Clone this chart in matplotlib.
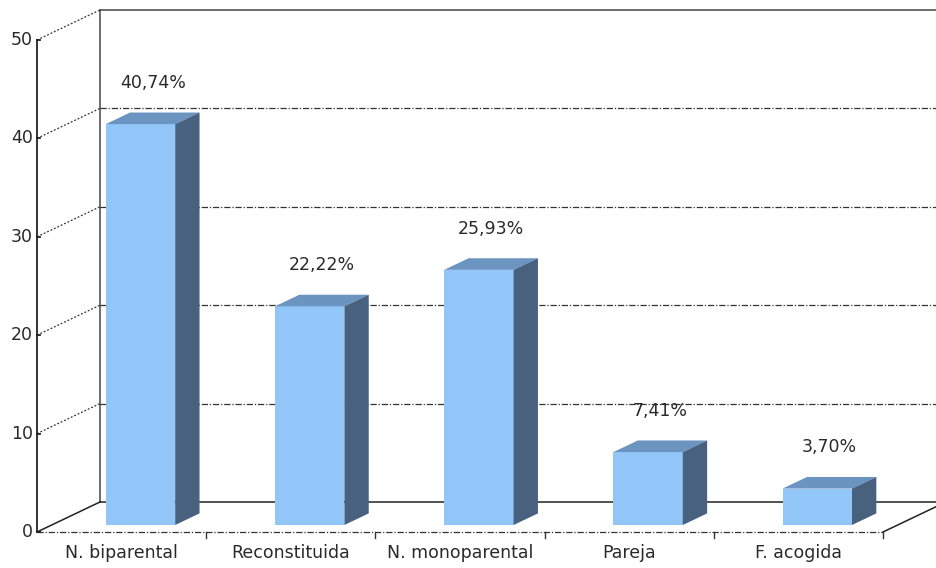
import matplotlib
matplotlib.use("Agg")
import matplotlib.pyplot as plt
from matplotlib.patches import Polygon

categories = ["N. biparental", "Reconstituida", "N. monoparental", "Pareja", "F. acogida"]
values = [40.74, 22.22, 25.93, 7.41, 3.70]
value_labels = ["40,74%", "22,22%", "25,93%", "7,41%", "3,70%"]
yticks = [0, 10, 20, 30, 40, 50]

# pseudo 3D geometry (in data units)
DX, DY = 0.372, 3.05        # full depth offset of the back wall
F0, F1 = 0.233, 0.62        # bar front / back depth fraction
BAR_L, BAR_W = 0.32, 0.41   # bar position inside its category
YMAX = 50
N = len(categories)

front_c = "#92c6f8"
top_c = "#6b94c1"
side_c = "#48617f"
grid_c = "#333333"
text_c = "#2a2a2a"
dashdot = (0, (5, 1.5, 1, 1.5))

plt.rcParams['font.family'] = ['DejaVu Sans']

fig = plt.figure(figsize=(9.36, 5.68), dpi=100)
ax = fig.add_axes([0, 0, 1, 1])
ax.set_xlim(-37 / 169.2, (936 - 37) / 169.2)
ax.set_ylim(-36 / 9.84, (568 - 36) / 9.84)
ax.set_axis_off()

# back wall frame
ax.plot([DX, DX], [DY, YMAX + DY], color="#555555", lw=1.2, zorder=1)
ax.plot([DX, N + DX + 0.5], [YMAX + DY, YMAX + DY], color="#555555", lw=1.2, zorder=1)
# floor back line and right edge
ax.plot([DX, N + DX + 0.5], [DY, DY], color="#222222", lw=1.1, zorder=1)
ax.plot([N, N + DX], [0, DY], color="#222222", lw=1.1, zorder=1)
ax.plot([0, DX], [0, DY], color="#222222", lw=1.1, zorder=1)

# gridlines on back wall + diagonal lines on the left wall
for v in yticks[1:]:
    if v < YMAX:
        ax.plot([DX, N + DX + 0.5], [v + DY, v + DY], color=grid_c, lw=0.9,
                ls=dashdot, zorder=1)
    ax.plot([0, DX], [v, v + DY], color=grid_c, lw=0.9, ls=(0, (1.5, 1.5)), zorder=1)

# front floor line
ax.plot([0, N], [0, 0], color=grid_c, lw=0.9, ls=dashdot, zorder=1)
for i in range(1, N + 1):
    ax.plot([i, i], [0, -0.6], color=grid_c, lw=1.0, zorder=1)

# front axis
ax.plot([0, 0], [0, YMAX], color="#222222", lw=1.3, zorder=5)
for v in yticks:
    ax.plot([0, 0.02], [v, v], color="#222222", lw=1.3, zorder=5)
    ax.text(-0.025, v, str(v), ha="right", va="center", fontsize=12.5, color=text_c)

# bars
for i, (v, lab) in enumerate(zip(values, value_labels)):
    x0 = i + BAR_L
    x1 = x0 + BAR_W
    ox0, oy0 = F0 * DX, F0 * DY
    ox1, oy1 = F1 * DX, F1 * DY
    front = [(x0 + ox0, oy0), (x1 + ox0, oy0), (x1 + ox0, v + oy0), (x0 + ox0, v + oy0)]
    top = [(x0 + ox0, v + oy0), (x1 + ox0, v + oy0), (x1 + ox1, v + oy1), (x0 + ox1, v + oy1)]
    side = [(x1 + ox0, oy0), (x1 + ox1, oy1), (x1 + ox1, v + oy1), (x1 + ox0, v + oy0)]
    ax.add_patch(Polygon(front, closed=True, facecolor=front_c, edgecolor="none", zorder=3))
    ax.add_patch(Polygon(top, closed=True, facecolor=top_c, edgecolor="none", zorder=3))
    ax.add_patch(Polygon(side, closed=True, facecolor=side_c, edgecolor="none", zorder=3))
    xc = (x0 + x1) / 2 + (ox0 + ox1) / 2
    ax.text(xc, v + oy1 + 3.0, lab, ha="center", va="center", fontsize=12.5,
            color=text_c, zorder=6)

# category labels
for i, c in enumerate(categories):
    ax.text(i + 0.5, -2.15, c, ha="center", va="center", fontsize=12.5, color=text_c)

fig.savefig("out.png", dpi=100, facecolor="white")
